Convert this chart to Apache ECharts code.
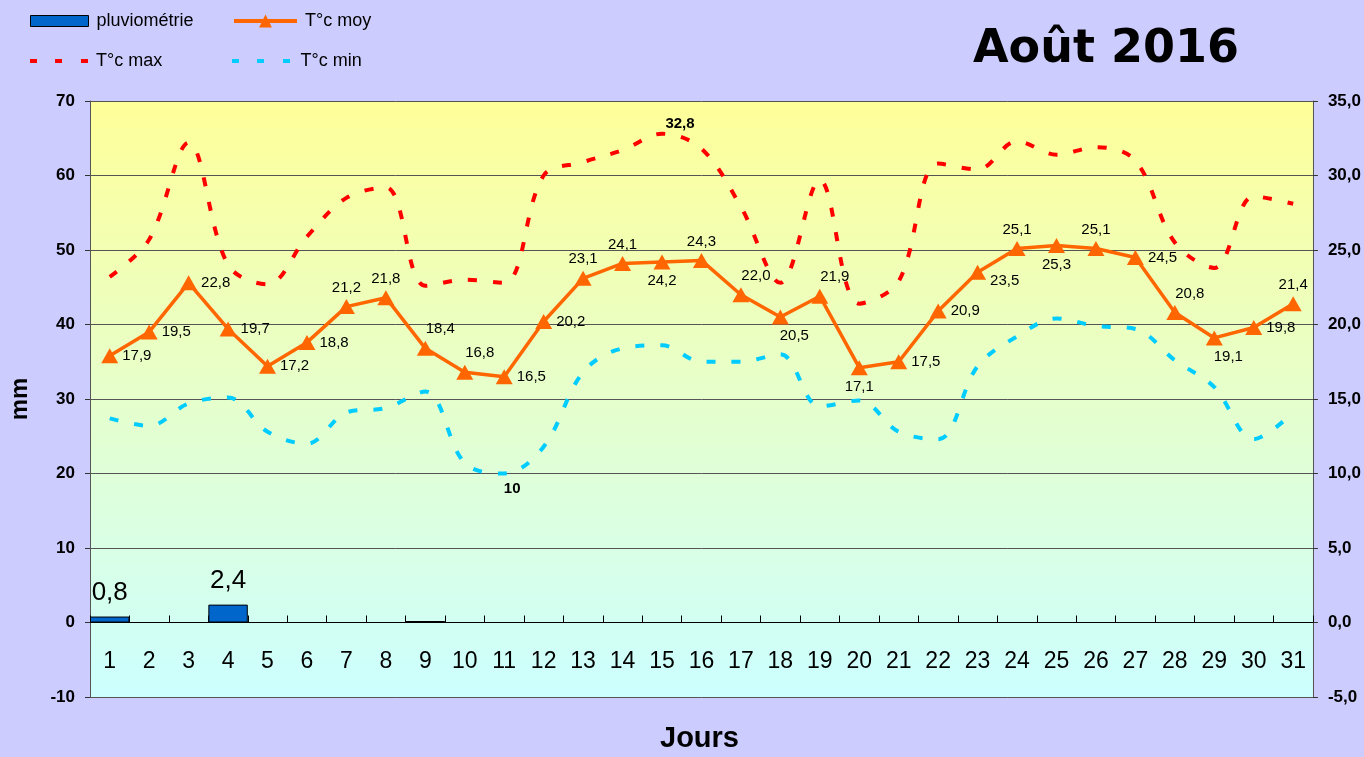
<!DOCTYPE html>
<html>
<head>
<meta charset="utf-8">
<title>Août 2016</title>
<script src="https://cdn.jsdelivr.net/npm/echarts@6/dist/echarts.min.js"></script>
<style>
  html, body { margin: 0; padding: 0; background: #CCCCFF; }
  #chart { width: 1364px; height: 757px; }
</style>
</head>
<body>
<div id="chart"></div>
<script>
// Relevés météo - août 2016
const days = ['1','2','3','4','5','6','7','8','9','10','11','12','13','14','15','16',
  '17','18','19','20','21','22','23','24','25','26','27','28','29','30','31'];
const pluvio = [0.8, 0, 0, 2.4, 0, 0, 0, 0, 0.2, 0, 0, 0, 0, 0, 0, 0,
  0, 0, 0, 0, 0, 0, 0, 0, 0, 0, 0, 0, 0, 0, 0];
const tMoy = [17.9, 19.5, 22.8, 19.7, 17.2, 18.8, 21.2, 21.8, 18.4, 16.8, 16.5, 20.2, 23.1, 24.1, 24.2, 24.3,
  22.0, 20.5, 21.9, 17.1, 17.5, 20.9, 23.5, 25.1, 25.3, 25.1, 24.5, 20.8, 19.1, 19.8, 21.4];
const tMax = [23.2, 25.7, 32.2, 24.0, 22.7, 25.9, 28.5, 29.2, 22.6, 23.0, 22.8, 30.0, 30.9, 31.7, 32.8, 31.8,
  27.9, 22.8, 29.7, 21.4, 22.9, 30.8, 30.4, 32.3, 31.4, 31.9, 31.0, 25.5, 23.8, 28.6, 28.1];
const tMin = [13.7, 13.2, 14.7, 15.1, 12.8, 12.0, 14.1, 14.4, 15.5, 10.7, 10.0, 11.8, 16.8, 18.4, 18.6, 17.5,
  17.5, 18.0, 14.5, 14.9, 12.8, 12.3, 17.2, 19.2, 20.4, 19.9, 19.7, 17.6, 15.8, 12.3, 14.1];

// placement des étiquettes T°c moy
const moyLabelPos = ['right','right','right','right','right','right','top','top','topR','topR','right','right',
  'top','top','bottom','top','topR','bottomR','topR','bottom','right','right','rightB','top','bottom','top',
  'right','topR','bottomR','right','top'];

const FONT = 'Arial, "Liberation Sans", sans-serif';
const comma = v => String(v).replace('.', ',');
const DASH_ICON = 'path://M0,0h7v4h-7zM25,0h7v4h-7zM51,0h7v4h-7z';

function moyLabel(p) {
  const lab = { show: true, position: p, distance: 4 };
  if (p === 'topR') { lab.position = 'top'; lab.offset = [15, 0]; }
  if (p === 'bottomR') { lab.position = 'bottom'; lab.offset = [14, 0]; }
  if (p === 'rightB') { lab.position = 'right'; lab.offset = [0, 9]; }
  return lab;
}

const maxIdx = tMax.indexOf(Math.max(...tMax));
const minIdx = tMin.indexOf(Math.min(...tMin));

const legendText = { fontFamily: FONT, fontSize: 18, color: '#000', padding: [0, 0, 0, 3] };

const chart = echarts.init(document.getElementById('chart'));
chart.setOption({
  backgroundColor: '#CCCCFF',
  animation: false,
  textStyle: { fontFamily: FONT },
  title: [
    { text: 'Août 2016', left: 968, top: 22,
      textStyle: { fontFamily: '"DejaVu Sans", Arial, sans-serif', fontSize: 46, fontWeight: 'bold', color: '#000' } },
    { text: 'Jours', left: 660, top: 724, padding: 0,
      textStyle: { fontFamily: FONT, fontSize: 29, fontWeight: 'bold', color: '#000' } }
  ],
  legend: [
    { data: ['pluviométrie'], left: 25, top: 7, icon: 'rect', itemWidth: 58, itemHeight: 11,
      itemStyle: { borderColor: '#000', borderWidth: 1 }, textStyle: legendText },
    { data: ['T°c moy'], left: 227, top: 7, itemWidth: 63, itemHeight: 16,
      lineStyle: { width: 4 }, textStyle: legendText },
    { data: ['T°c max'], left: 25, top: 47, icon: DASH_ICON, itemWidth: 58, itemHeight: 4, textStyle: legendText },
    { data: ['T°c min'], left: 227, top: 47, icon: DASH_ICON, itemWidth: 63, itemHeight: 4, textStyle: legendText }
  ],
  grid: {
    left: 89, right: 51, top: 101, bottom: 60, show: true, borderWidth: 0,
    backgroundColor: new echarts.graphic.LinearGradient(0, 0, 0, 1, [
      { offset: 0, color: '#FFFF99' },
      { offset: 1, color: '#CCFFFF' }
    ])
  },
  xAxis: {
    type: 'category',
    data: days,
    boundaryGap: true,
    axisLine: { onZero: true, onZeroAxisIndex: 0, lineStyle: { color: '#000', width: 1 } },
    axisTick: { show: true, inside: true, length: 7, lineStyle: { color: '#000' } },
    axisLabel: { margin: -47, fontSize: 23, color: '#000', fontFamily: FONT },
    splitLine: { show: false }
  },
  yAxis: [
    {
      type: 'value', min: -10, max: 70, interval: 10,
      name: 'mm', nameLocation: 'middle', nameGap: 58, nameRotate: 90,
      nameTextStyle: { fontFamily: FONT, fontSize: 24, fontWeight: 'bold', color: '#000' },
      axisLine: { show: true, lineStyle: { color: '#555' } },
      axisTick: { show: true, length: 5, lineStyle: { color: '#333' } },
      axisLabel: { fontSize: 17, fontWeight: 'bold', color: '#000', margin: 15, fontFamily: FONT },
      splitLine: { show: true, lineStyle: { color: '#555', width: 1 } }
    },
    {
      type: 'value', min: -5, max: 35, interval: 5, position: 'right',
      axisLine: { show: true, lineStyle: { color: '#555' } },
      axisTick: { show: true, length: 5, lineStyle: { color: '#333' } },
      axisLabel: { fontSize: 17, fontWeight: 'bold', color: '#000', margin: 15, fontFamily: FONT,
        formatter: v => v.toFixed(1).replace('.', ',') },
      splitLine: { show: false }
    }
  ],
  series: [
    {
      name: 'pluviométrie', type: 'bar', yAxisIndex: 0, barCategoryGap: '0%',
      data: pluvio,
      itemStyle: { color: '#0066CC', borderColor: '#000', borderWidth: 1 },
      label: { show: true, position: 'top', distance: 11, fontSize: 26, color: '#000', fontFamily: FONT,
        formatter: p => (p.value >= 0.5 ? comma(p.value) : '') },
      z: 2
    },
    {
      name: 'T°c max', type: 'line', yAxisIndex: 1, smooth: 0.35, symbol: 'none',
      data: tMax.map((v, i) => i === maxIdx
        ? { value: v, symbol: 'circle', symbolSize: 1,
            label: { show: true, position: 'top', distance: 4, offset: [18, 2], fontWeight: 'bold', fontSize: 15,
              color: '#000', formatter: p => comma(p.value) } }
        : v),
      lineStyle: { color: '#FF0000', width: 4, type: [9, 16] },
      itemStyle: { color: '#FF0000' },
      z: 3
    },
    {
      name: 'T°c min', type: 'line', yAxisIndex: 1, smooth: 0.35, symbol: 'none',
      data: tMin.map((v, i) => i === minIdx
        ? { value: v, symbol: 'circle', symbolSize: 1,
            label: { show: true, position: 'bottom', distance: 7, offset: [8, 0], fontWeight: 'bold', fontSize: 15,
              color: '#000', formatter: p => comma(p.value) } }
        : v),
      lineStyle: { color: '#00CCFF', width: 4, type: [9, 16] },
      itemStyle: { color: '#00CCFF' },
      z: 3
    },
    {
      name: 'T°c moy', type: 'line', yAxisIndex: 1, symbol: 'triangle', symbolSize: [17, 15],
      data: tMoy.map((v, i) => ({ value: v, label: moyLabel(moyLabelPos[i]) })),
      lineStyle: { color: '#FF6600', width: 3.5 },
      itemStyle: { color: '#FF6600' },
      label: { fontSize: 15, color: '#000', fontFamily: FONT,
        formatter: p => p.value.toFixed(1).replace('.', ',') },
      z: 4
    }
  ]
});
</script>
</body>
</html>
